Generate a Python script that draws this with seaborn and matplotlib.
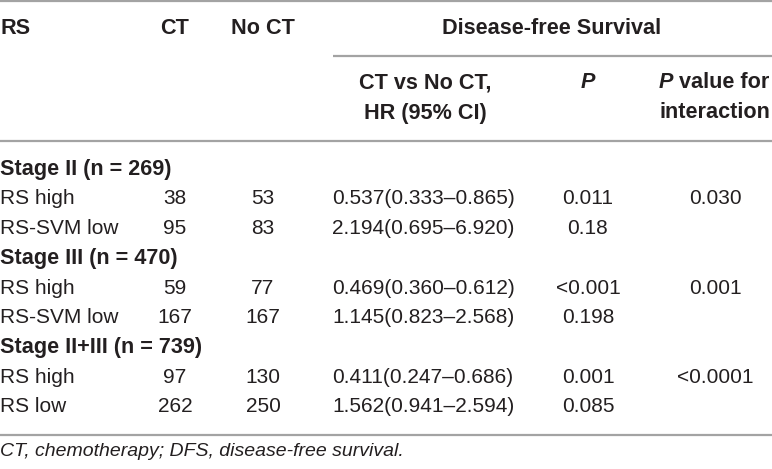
import matplotlib
matplotlib.use("Agg")
import matplotlib.pyplot as plt
import seaborn as sns

sns.set_theme(style="white")
plt.rcParams['font.family'] = ['Liberation Sans', 'DejaVu Sans']

# table content
groups = ["Stage II (n = 269)", "Stage III (n = 470)", "Stage II+III (n = 739)"]
labels = [["RS high", "RS-SVM low"], ["RS high", "RS-SVM low"], ["RS high", "RS low"]]
ct = [[38, 95], [59, 167], [97, 262]]
no_ct = [[53, 83], [77, 167], [130, 250]]
hr = [["0.537(0.333–0.865)", "2.194(0.695–6.920)"],
      ["0.469(0.360–0.612)", "1.145(0.823–2.568)"],
      ["0.411(0.247–0.686)", "1.562(0.941–2.594)"]]
p_val = [["0.011", "0.18"], ["<0.001", "0.198"], ["0.001", "0.085"]]
p_inter = ["0.030", "0.001", "<0.0001"]
footnote = "CT, chemotherapy; DFS, disease-free survival."

W, H = 772, 469
fig = plt.figure(figsize=(W / 100, H / 100), dpi=100)
ax = fig.add_axes([0, 0, 1, 1])
ax.set_xlim(0, W)
ax.set_ylim(H, 0)
ax.axis("off")

fs = 15
fs_b = 15.6
txt = "#231f20"
rule = "#a3a3a3"

# column x positions (pixels)
x_rs, x_ct, x_noct, x_hr, x_p, x_int = 0, 175, 263, 332, 588, 715

# rules
ax.hlines(1.5, 0, W, color=rule, lw=1.6)
ax.hlines(56, 333, W, color=rule, lw=1.6)
ax.hlines(141.5, 0, W, color=rule, lw=1.6)
ax.hlines(435, 0, W, color=rule, lw=1.6)

# header
kw = dict(fontsize=fs_b, color=txt, va="center", fontweight="bold")
ax.text(x_rs, 29, "RS", ha="left", **kw)
ax.text(x_ct, 29, "CT", ha="center", **kw)
ax.text(x_noct, 29, "No CT", ha="center", **kw)
ax.text(552, 29, "Disease-free Survival", ha="center", **kw)
ax.text(425, 83, "CT vs No CT,", ha="center", **kw)
ax.text(425, 113, "HR (95% CI)", ha="center", **kw)
ax.text(x_p, 83, "P", ha="center", style="italic", **kw)
p_txt = ax.text(659, 83, "P", ha="left", style="italic", **kw)
fig.canvas.draw()
bb = p_txt.get_window_extent(renderer=fig.canvas.get_renderer())
x_after = bb.x1  # pixel coordinates match data x (1 px per unit)
ax.text(x_after, 83, " value for", ha="left", **kw)
ax.text(x_int, 113, "interaction", ha="center", **kw)

# body
y0, dy = 169, 29.75
row = 0
for g in range(len(groups)):
    y = y0 + row * dy
    ax.text(x_rs, y, groups[g], ha="left", **kw)
    row += 1
    for i in range(2):
        y = y0 + row * dy
        nk = dict(fontsize=fs, color=txt, va="center")
        ax.text(x_rs, y, labels[g][i], ha="left", **nk)
        ax.text(x_ct, y, str(ct[g][i]), ha="center", **nk)
        ax.text(x_noct, y, str(no_ct[g][i]), ha="center", **nk)
        ax.text(x_hr, y, hr[g][i], ha="left", **nk)
        ax.text(x_p, y, p_val[g][i], ha="center", **nk)
        if i == 0:
            ax.text(x_int, y, p_inter[g], ha="center", **nk)
        row += 1

ax.text(0, 451, footnote, ha="left", va="center", fontsize=fs - 1,
        style="italic", color=txt)

fig.savefig("out.png", dpi=100)
